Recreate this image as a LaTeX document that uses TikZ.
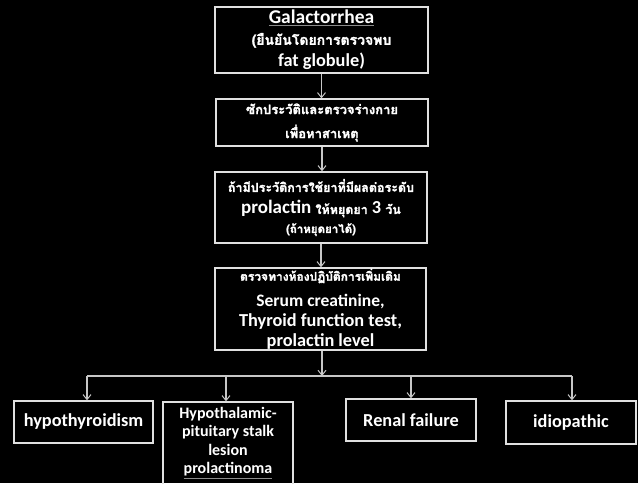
\documentclass[tikz,border=0pt]{standalone}
\usepackage{fontspec}
\setmainfont{Carlito}
\newfontfamily\thai[Script=Thai,FakeBold=1.6]{Loma}
\usetikzlibrary{arrows.meta}
\begin{document}
\begin{tikzpicture}[x=1pt,y=-1pt,
  box/.style={draw=white!88!black, line width=1.3pt, align=center, text=white,
    inner sep=0pt, font=\bfseries\fontsize{18.3}{20}\selectfont},
  arr/.style={draw=white!78!black, line width=1.1pt,
    -{Straight Barb[length=5pt,width=8pt,line width=1pt]}},
  ln/.style={draw=white!78!black, line width=1.1pt}]
\fill[black] (0,0) rectangle (638,483);
\useasboundingbox (0,0) rectangle (638,483);
\clip (0,0) rectangle (638,483);

\node[box, minimum width=213pt, minimum height=66pt] (b1) at (321.5,40)
  {\fontsize{19.5}{22}\selectfont{\color{white!55!black}\underline{\color{white}Galactorrhea}}\\[1pt]
   {\thai\fontsize{14}{22}\selectfont (ยืนยันโดยการตรวจพบ}\\[2pt]
   fat globule)};
\node[box, minimum width=212pt, minimum height=47pt] (b2) at (322,122.5)
  {{\thai\fontsize{13}{24}\selectfont ซักประวัติและตรวจร่างกาย}\\[4pt]
   {\thai\fontsize{13}{20}\selectfont เพื่อหาสาเหตุ}};
\node[box, minimum width=212pt, minimum height=71pt] (b3) at (321,207.5)
  {{\thai\fontsize{12.5}{20}\selectfont ถ้ามีประวัติการใช้ยาที่มีผลต่อระดับ}\\[2pt]
   {\fontsize{19}{20}\selectfont prolactin} {\thai\fontsize{12.5}{20}\selectfont ให้หยุดยา} 3 {\thai\fontsize{12.5}{20}\selectfont วัน}\\[-1pt]
   {\thai\fontsize{11.5}{20}\selectfont (ถ้าหยุดยาได้)}};
\node[box, minimum width=211pt, minimum height=82pt] (b4) at (320.5,309)
  {{\thai\fontsize{12}{20}\selectfont ตรวจทางห้องปฏิบัติการเพิ่มเติม}\\[6pt]
   \fontsize{17.5}{20}\selectfont Serum creatinine,\\
   Thyroid function test,\\
   prolactin level};

\node[box, minimum width=139pt, minimum height=42pt] (c1) at (83.5,422) {hypothyroidism};
\node[box, minimum width=130pt, minimum height=95pt] (c2) at (228,449.5) {};
\node[text=white, align=center, anchor=north, inner sep=0pt,
  font=\bfseries\fontsize{16}{18.5}\selectfont] (c2t) at (228,407)
  {Hypothalamic-\\pituitary stalk\\lesion\\{\color{white!55!black}\underline{\color{white}prolactinoma}}};
\node[box, minimum width=130pt, minimum height=42pt] (c3) at (411,420) {Renal failure};
\node[box, minimum width=130pt, minimum height=43pt] (c4) at (571,422.5) {idiopathic};

\draw[arr] (b1.south) -- (b1.south |- b2.north);
\draw[arr] (b2.south) -- (b2.south |- b3.north);
\draw[arr] (b3.south) -- (b3.south |- b4.north);
\coordinate (j) at (322,376);
\draw[arr] (b4.south -| j) -- (j);
\coordinate (d1) at (87,376);
\coordinate (d2) at (226,376);
\coordinate (d3) at (411,376);
\coordinate (d4) at (572,376);
\draw[ln] (d1) -- (d4);
\draw[arr] (d1) -- (d1 |- c1.north);
\draw[arr] (d2) -- (d2 |- c2.north);
\draw[arr] (d3) -- (d3 |- c3.north);
\draw[arr] (d4) -- (d4 |- c4.north);
\end{tikzpicture}
\end{document}
